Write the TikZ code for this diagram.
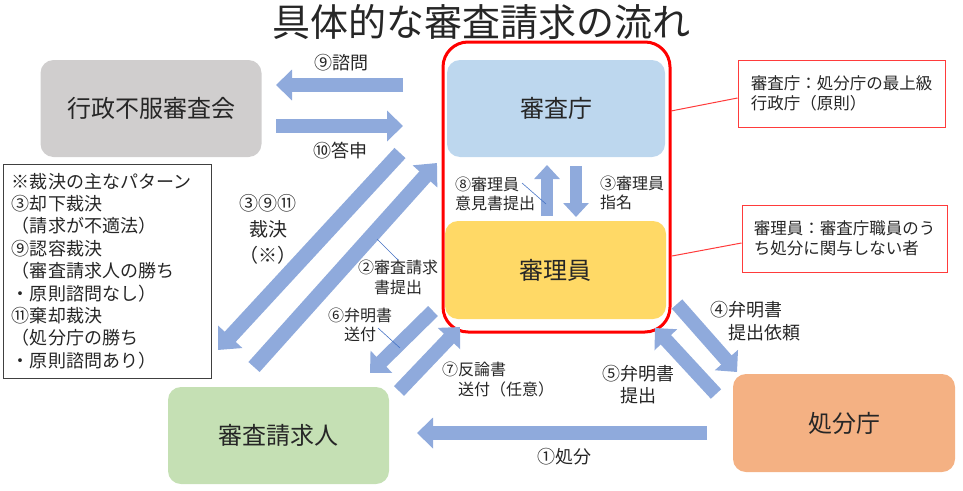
\documentclass[tikz,border=0pt]{standalone}
\usepackage{fontspec}
\setmainfont{Noto Sans CJK JP}
\usetikzlibrary{arrows.meta}
\definecolor{kaigray}{HTML}{D0CECE}
\definecolor{choblue}{HTML}{BDD7EE}
\definecolor{riyellow}{HTML}{FFD966}
\definecolor{ningreen}{HTML}{C5E0B4}
\definecolor{shoorange}{HTML}{F4B183}
\definecolor{flowblue}{HTML}{8FAADC}
\definecolor{leadblue}{HTML}{4472C4}
\definecolor{noteRed}{HTML}{FF3B3B}
\definecolor{inkgray}{HTML}{262626}

\begin{document}
\begin{tikzpicture}[x=1pt,y=-1pt,
    every node/.style={text=inkgray, inner sep=0pt},
    box/.style={rounded corners=13pt, minimum width=221pt, minimum height=97pt, font=\fontsize{24}{28}\selectfont},
    flow/.style={draw=flowblue, line width=14pt, -{Triangle[length=16pt,width=30pt]}},
    flowthin/.style={draw=flowblue, line width=12pt, -{Triangle[length=14pt,width=25pt]}},
    flowbig/.style={draw=flowblue, line width=15pt, -{Triangle[length=18pt,width=32pt]}},
    lbl/.style={align=left, font=\fontsize{16}{19.5}\selectfont},
    lblbig/.style={align=left, font=\fontsize{18}{22.5}\selectfont},
    note/.style={draw=noteRed, line width=1pt, minimum width=207pt, minimum height=67pt, align=left, font=\fontsize{16.5}{20.5}\selectfont},
    leader/.style={draw=leadblue, line width=0.6pt},
    callline/.style={draw=noteRed, line width=1pt}]
    \useasboundingbox (0,0) rectangle (963,490);

    \node[font=\fontsize{38}{42}\selectfont] (title) at (481,22) {具体的な審査請求の流れ};

    % boxes
    \node[draw=red, line width=3pt, rounded corners=25pt, minimum width=227pt, minimum height=290pt] (frame) at (556.5,187) {};
    \node[box, fill=kaigray] (kai) at (151,108.5) {行政不服審査会};
    \node[box, fill=choblue, minimum width=218pt] (cho) at (556,108.5) {審査庁};
    \node[box, fill=riyellow, minimum height=98pt] (ri) at (555.5,270) {審理員};
    \node[box, fill=ningreen] (nin) at (278.5,435.5) {審査請求人};
    \node[box, fill=shoorange, minimum width=222pt, minimum height=98pt] (sho) at (844,423) {処分庁};

    % arrow ends
    \coordinate (a9s) at (403,85);   \coordinate (a9e) at (276,85);
    \coordinate (a10s) at (276,126); \coordinate (a10e) at (403,126);
    \coordinate (a8s) at (547,216);  \coordinate (a8e) at (547,165);
    \coordinate (a3s) at (576,166);  \coordinate (a3e) at (576,217);
    \coordinate (asas) at (400,153); \coordinate (asae) at (218,350);
    \coordinate (a2s) at (254,367);  \coordinate (a2e) at (437,163);
    \coordinate (a6s) at (433,311);  \coordinate (a6e) at (370,373);
    \coordinate (a7s) at (399,391);  \coordinate (a7e) at (460,327);
    \coordinate (a4s) at (677,304);  \coordinate (a4e) at (737,372);
    \coordinate (a5s) at (716,394);  \coordinate (a5e) at (655,328);
    \coordinate (a1s) at (707,433);  \coordinate (a1e) at (417,433);

    \draw[flow] (a9s) -- (a9e);
    \draw[flow] (a10s) -- (a10e);
    \draw[flowthin] (a8s) -- (a8e);
    \draw[flowthin] (a3s) -- (a3e);
    \draw[flowbig] (asas) -- (asae);
    \draw[flowbig] (a2s) -- (a2e);
    \draw[flow] (a6s) -- (a6e);
    \draw[flow] (a7s) -- (a7e);
    \draw[flow] (a4s) -- (a4e);
    \draw[flow] (a5s) -- (a5e);
    \draw[flow] (a1s) -- (a1e);

    % labels
    \node[lblbig] (l9) at (341,63) {⑨諮問};
    \node[lblbig] (l10) at (340,151) {⑩答申};
    \node[align=center, font=\fontsize{19}{26}\selectfont] (lsai) at (268,229) {③⑨⑪\\裁決\\（※）};
    \node[lbl, anchor=west] (l2) at (358,277.5) {②審査請求\\\hspace*{1em}書提出};
    \node[lbl, anchor=west] (l6) at (328,325) {⑥弁明書\\\hspace*{1em}送付};
    \node[lbl, anchor=west] (l7) at (442,379.5) {⑦反論書\\\hspace*{1em}送付（任意）};
    \node[lbl, anchor=west] (l8) at (455,194) {⑧審理員\\意見書提出};
    \node[lbl, anchor=west] (l3) at (600,193) {③審理員\\指名};
    \node[lblbig, anchor=west] (l4) at (710,321) {④弁明書\\\hspace*{1em}提出依頼};
    \node[lblbig, anchor=west] (l5) at (602,384.5) {⑤弁明書\\\hspace*{1em}提出};
    \node[lblbig] (l1) at (564,457) {①処分};

    \coordinate (p2) at (377,239);
    \coordinate (p6a) at (378,328);  \coordinate (p6b) at (400,348);
    \coordinate (p8a) at (522,183);  \coordinate (p8b) at (546,204);
    \draw[leader] (p2) -- (l2.north);
    \draw[leader] (p6a) -- (p6b);
    \draw[leader] (p8a) -- (p8b);

    % callouts
    \node[note] (c1) at (841.5,93.5) {審査庁：処分庁の最上級\\行政庁（原則）};
    \node[note, minimum width=205pt] (c2) at (844.5,238.5) {審理員：審査庁職員のう\\ち処分に関与しない者};
    \coordinate (f1) at (671,111);
    \coordinate (f2) at (672,256);
    \draw[callline] ([yshift=-4.5pt]c1.west) -- (f1);
    \draw[callline] ([yshift=-4.5pt]c2.west) -- (f2);

    \node[draw=black!75, line width=1pt, minimum width=208pt, minimum height=214pt, text width=190pt, align=left, inner xsep=9pt, font=\fontsize{18}{22.4}\selectfont] (notes) at (107,271) {※裁決の主なパターン\\③却下裁決\\（請求が不適法）\\⑨認容裁決\\（審査請求人の勝ち\\・原則諮問なし）\\⑪棄却裁決\\（処分庁の勝ち\\・原則諮問あり）};
\end{tikzpicture}
\end{document}
